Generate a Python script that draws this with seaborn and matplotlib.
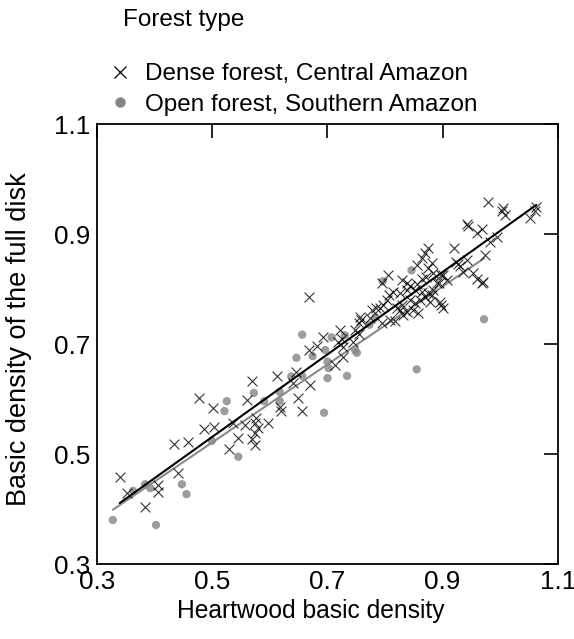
import matplotlib
matplotlib.use("Agg")
import matplotlib.pyplot as plt
import seaborn as sns
import pandas as pd
from matplotlib.lines import Line2D

# ---- data ----
dense_x = [0.339, 0.351, 0.383, 0.406, 0.406, 0.441, 0.433, 0.457, 0.477, 0.485,
           0.502, 0.501, 0.529, 0.545, 0.536, 0.560, 0.569, 0.557, 0.574, 0.569,
           0.574, 0.575, 0.579, 0.574, 0.597, 0.613, 0.619, 0.617, 0.649, 0.646,
           0.656, 0.670, 0.640, 0.667, 0.681, 0.693, 0.668, 0.713, 0.727, 0.722,
           0.725, 0.727, 0.719, 0.748, 0.754, 0.745, 0.756, 0.759, 0.755, 0.777,
           0.774, 0.785, 0.791, 0.797, 0.803, 0.806, 0.805, 0.794, 0.794, 0.809,
           0.817, 0.826, 0.832, 0.838, 0.849, 0.852, 0.858, 0.861, 0.869, 0.878,
           0.881, 0.895, 0.901, 0.829, 0.820, 0.829, 0.838, 0.843, 0.855, 0.852,
           0.872, 0.890, 0.901, 0.864, 0.875, 0.884, 0.875, 0.869, 0.864, 0.855,
           0.881, 0.875, 0.884, 0.919, 0.927, 0.930, 0.942, 0.936, 0.953, 0.968,
           0.924, 0.971, 0.959, 0.898, 0.907, 0.893, 0.864, 0.814, 0.826, 0.838,
           0.898, 0.843, 0.979, 1.005, 1.003, 1.008, 1.063, 1.060, 1.052, 0.942,
           0.945, 0.959, 0.968, 0.982, 0.994, 0.974]
dense_y = [0.459, 0.429, 0.404, 0.444, 0.431, 0.465, 0.519, 0.522, 0.601, 0.545,
           0.550, 0.584, 0.510, 0.529, 0.556, 0.598, 0.633, 0.553, 0.538, 0.527,
           0.516, 0.565, 0.547, 0.556, 0.556, 0.641, 0.578, 0.585, 0.601, 0.650,
           0.578, 0.625, 0.629, 0.689, 0.696, 0.713, 0.785, 0.662, 0.677, 0.725,
           0.710, 0.695, 0.704, 0.725, 0.719, 0.704, 0.750, 0.744, 0.738, 0.762,
           0.747, 0.765, 0.765, 0.771, 0.780, 0.789, 0.825, 0.811, 0.738, 0.744,
           0.741, 0.762, 0.753, 0.759, 0.762, 0.775, 0.757, 0.780, 0.786, 0.777,
           0.789, 0.777, 0.765, 0.771, 0.765, 0.816, 0.810, 0.805, 0.809, 0.798,
           0.822, 0.810, 0.825, 0.795, 0.792, 0.798, 0.875, 0.865, 0.856, 0.844,
           0.847, 0.838, 0.829, 0.874, 0.845, 0.841, 0.853, 0.831, 0.829, 0.811,
           0.850, 0.813, 0.819, 0.825, 0.816, 0.810, 0.819, 0.795, 0.792, 0.798,
           0.771, 0.780, 0.959, 0.947, 0.941, 0.935, 0.949, 0.941, 0.930, 0.919,
           0.915, 0.901, 0.910, 0.886, 0.894, 0.862]

open_x = [0.327, 0.362, 0.383, 0.392, 0.402, 0.447, 0.455, 0.499, 0.525, 0.521,
          0.545, 0.572, 0.590, 0.617, 0.617, 0.637, 0.656, 0.646, 0.656, 0.696,
          0.674, 0.700, 0.702, 0.700, 0.694, 0.734, 0.707, 0.730, 0.748, 0.751,
          0.773, 0.783, 0.796, 0.846, 0.855, 0.972]
open_y = [0.380, 0.433, 0.445, 0.438, 0.371, 0.445, 0.427, 0.524, 0.596, 0.578,
          0.495, 0.611, 0.596, 0.613, 0.596, 0.641, 0.642, 0.675, 0.717, 0.689,
          0.678, 0.668, 0.656, 0.638, 0.575, 0.642, 0.712, 0.716, 0.689, 0.684,
          0.735, 0.748, 0.814, 0.834, 0.654, 0.745]

ticks = [0.3, 0.5, 0.7, 0.9, 1.1]
tick_labels = ["0.3", "0.5", "0.7", "0.9", "1.1"]
labels = ["Dense forest, Central Amazon", "Open forest, Southern Amazon"]

# ---- style ----
sns.set_style("white")
plt.rcParams["font.family"] = ["Liberation Sans", "DejaVu Sans"]
plt.rcParams["text.color"] = "black"
plt.rcParams["axes.labelcolor"] = "black"
plt.rcParams["xtick.color"] = "black"
plt.rcParams["ytick.color"] = "black"
FS = 17.5

dense = pd.DataFrame({"x": dense_x, "y": dense_y})
opn = pd.DataFrame({"x": open_x, "y": open_y})

fig = plt.figure(figsize=(5.74, 6.39), dpi=100)
ax = fig.add_axes([97.3 / 574, 1 - 564 / 639, (557.7 - 97.3) / 574, 440 / 639])

gray = "#858585"
sns.regplot(data=opn, x="x", y="y", ax=ax, ci=None, marker="o",
            scatter_kws=dict(s=36, color=gray, edgecolors="none", zorder=2),
            line_kws=dict(color="#8a8a8a", lw=1.5, zorder=3))
sns.regplot(data=dense, x="x", y="y", ax=ax, ci=None, marker="x",
            scatter_kws=dict(s=50, color="black", linewidths=0.8, zorder=4),
            line_kws=dict(color="black", lw=1.5, zorder=5))

ax.set_xlim(0.3, 1.1)
ax.set_ylim(0.3, 1.1)
ax.set_xticks(ticks)
ax.set_xticklabels(tick_labels)
ax.set_yticks(ticks)
ax.set_yticklabels(tick_labels)
ax.tick_params(direction="in", length=10, width=1.2, top=True, right=True,
               labelsize=18.8, colors="black", labelcolor="black")
ax.tick_params(axis="y", pad=5)
ax.tick_params(axis="x", pad=4.5)
for sp in ax.spines.values():
    sp.set_visible(True)
    sp.set_color("black")
    sp.set_linewidth(1.3)
ax.set_xlabel("Heartwood basic density", fontsize=17.7, color="black")
ax.set_ylabel("Basic density of the full disk", fontsize=19.5, color="black")
ax.xaxis.set_label_coords(0.464, -0.08)
ax.yaxis.set_label_coords(-0.142, 0.511)

# ---- legend ----
fig.text(123 / 574, 1 - 20 / 639, "Forest type", fontsize=FS, color="black",
         ha="left", va="center")
handles = [
    Line2D([], [], ls="none", marker="x", color="black", markersize=8, mew=0.9),
    Line2D([], [], ls="none", marker="o", color=gray, markeredgecolor="none", markersize=7.5),
]
leg = fig.legend(handles, labels, loc="upper left", bbox_to_anchor=(108 / 574, 1 - 63 / 639),
                 frameon=False, fontsize=FS, borderpad=0, handlelength=1.0,
                 handletextpad=0.54, labelspacing=0.36, borderaxespad=0)
for t in leg.get_texts():
    t.set_color("black")

fig.savefig("out.png", dpi=100)
